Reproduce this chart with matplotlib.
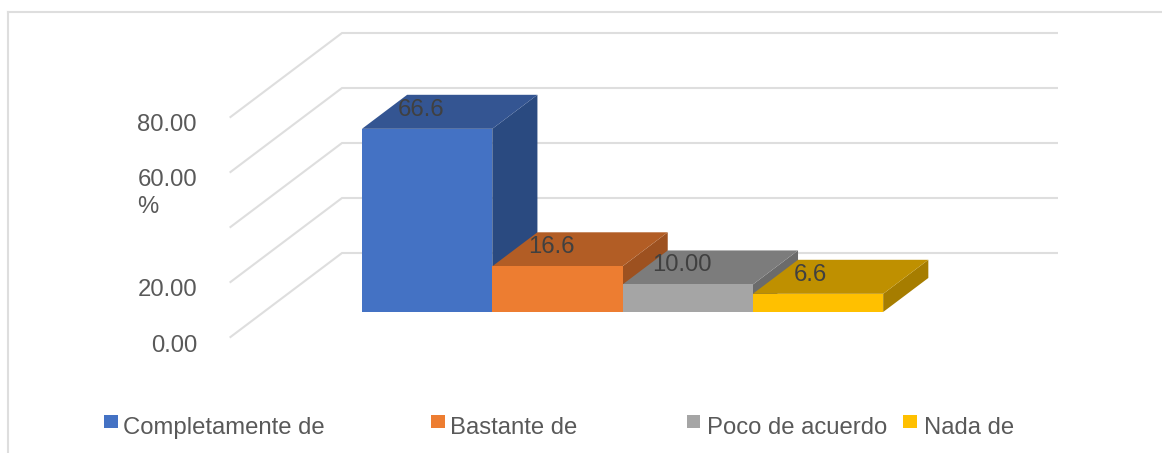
import matplotlib
matplotlib.use("Agg")
import matplotlib.pyplot as plt
from matplotlib.patches import Polygon, Rectangle

plt.rcParams["font.family"] = ["Liberation Sans", "DejaVu Sans"]

# === Datos ===
categorias = ["Completamente de", "Bastante de", "Poco de acuerdo", "Nada de"]
valores = [66.6, 16.6, 10.0, 6.6]
etiquetas_datos = ["66.6", "16.6", "10.00", "6.6"]
ticks_y = [0, 20, 40, 60, 80]
etiquetas_y = ["0.00", "20.00", "", "60.00", "80.00"]

# === Estilos ===
col_frente = ["#4472C4", "#ED7D31", "#A5A5A5", "#FFC000"]
col_techo = ["#345592", "#B25D25", "#7C7C7C", "#BF9000"]
col_lado = ["#2A4A80", "#9D5120", "#6B6B6B", "#A67D00"]
col_grid = "#DEDEDE"
col_texto = "#595959"
col_etiqueta = "#404040"

W, H = 1162, 453
px_x = 130.3   # pixeles por categoria
px_y = 2.75    # pixeles por unidad
x_izq, x_der = -1.254, 4.233   # suelo, en unidades de categoria
fondo_x, fondo_y = 111.5 / px_x, 84 / px_y   # desplazamiento total de la profundidad
d_ini, d_fin = 0.298, 0.703    # profundidad de las barras


def proy(x, v, d):
    return x + d * fondo_x, v + d * fondo_y


fig = plt.figure(figsize=(W / 100, H / 100), dpi=100)
ax = fig.add_axes([0, 0, 1, 1])
ax.set_xlim(x_izq - 230.5 / px_x, x_izq + (W - 230.5) / px_x)
ax.set_ylim((337 - H) / px_y, 337 / px_y)
ax.axis("off")


def fig_x(px):
    return px / W


def fig_y(py):
    return 1 - py / H


# === Borde del grafico ===
fig.add_artist(plt.Line2D([fig_x(8), fig_x(8)], [0, fig_y(12)], color=col_grid, lw=1.5))
fig.add_artist(plt.Line2D([fig_x(8), 1], [fig_y(12), fig_y(12)], color=col_grid, lw=1.5))

# === Rejilla y eje ===
for t, lab in zip(ticks_y, etiquetas_y):
    x0, y0 = proy(x_izq, t, 0)
    x1, y1 = proy(x_izq, t, 1)
    x2, y2 = proy(x_der, t, 1)
    ax.plot([x0, x1, x2], [y0, y1, y2], color=col_grid, lw=1.5, zorder=1, solid_joinstyle="miter")
    ax.text(x_izq - 33.5 / px_x, t - 8.5 / px_y, lab, ha="right", va="center", fontsize=17.2, color=col_texto)

fig.text(fig_x(137), fig_y(207), "%", ha="left", va="center", fontsize=17.2, color=col_texto)

# === Barras ===
desp_etiqueta = [-6, -6, -5.5, -8]
for i, v in enumerate(valores):
    a, b = i - 0.5, i + 0.5
    frente = [proy(a, 0, d_ini), proy(b, 0, d_ini), proy(b, v, d_ini), proy(a, v, d_ini)]
    techo = [proy(a, v, d_ini), proy(b, v, d_ini), proy(b, v, d_fin), proy(a, v, d_fin)]
    lado = [proy(b, 0, d_ini), proy(b, 0, d_fin), proy(b, v, d_fin), proy(b, v, d_ini)]
    ax.add_patch(Polygon(lado, closed=True, fc=col_lado[i], ec="none", zorder=2 + i))
    ax.add_patch(Polygon(techo, closed=True, fc=col_techo[i], ec="none", zorder=2 + i))
    ax.add_patch(Polygon(frente, closed=True, fc=col_frente[i], ec="none", zorder=2 + i))
    xt, yt = proy(i + desp_etiqueta[i] / px_x, v + 19 / px_y, d_ini)
    ax.text(xt, yt, etiquetas_datos[i], ha="center", va="center", fontsize=17.2,
            color=col_etiqueta, zorder=10)

# === Leyenda ===
ley_cuadro = [104, 431, 686.5, 903]
ley_texto = [123, 450.5, 707, 924]
for c, cx, tx, nombre in zip(col_frente, ley_cuadro, ley_texto, categorias):
    fig.add_artist(Rectangle((fig_x(cx), fig_y(428)), 13.5 / W, 13 / H, fc=c, ec="none",
                             transform=fig.transFigure))
    fig.text(fig_x(tx), fig_y(434), nombre, ha="left", va="baseline", fontsize=17.2, color=col_texto)

fig.savefig("out.png", dpi=100, facecolor="white")
